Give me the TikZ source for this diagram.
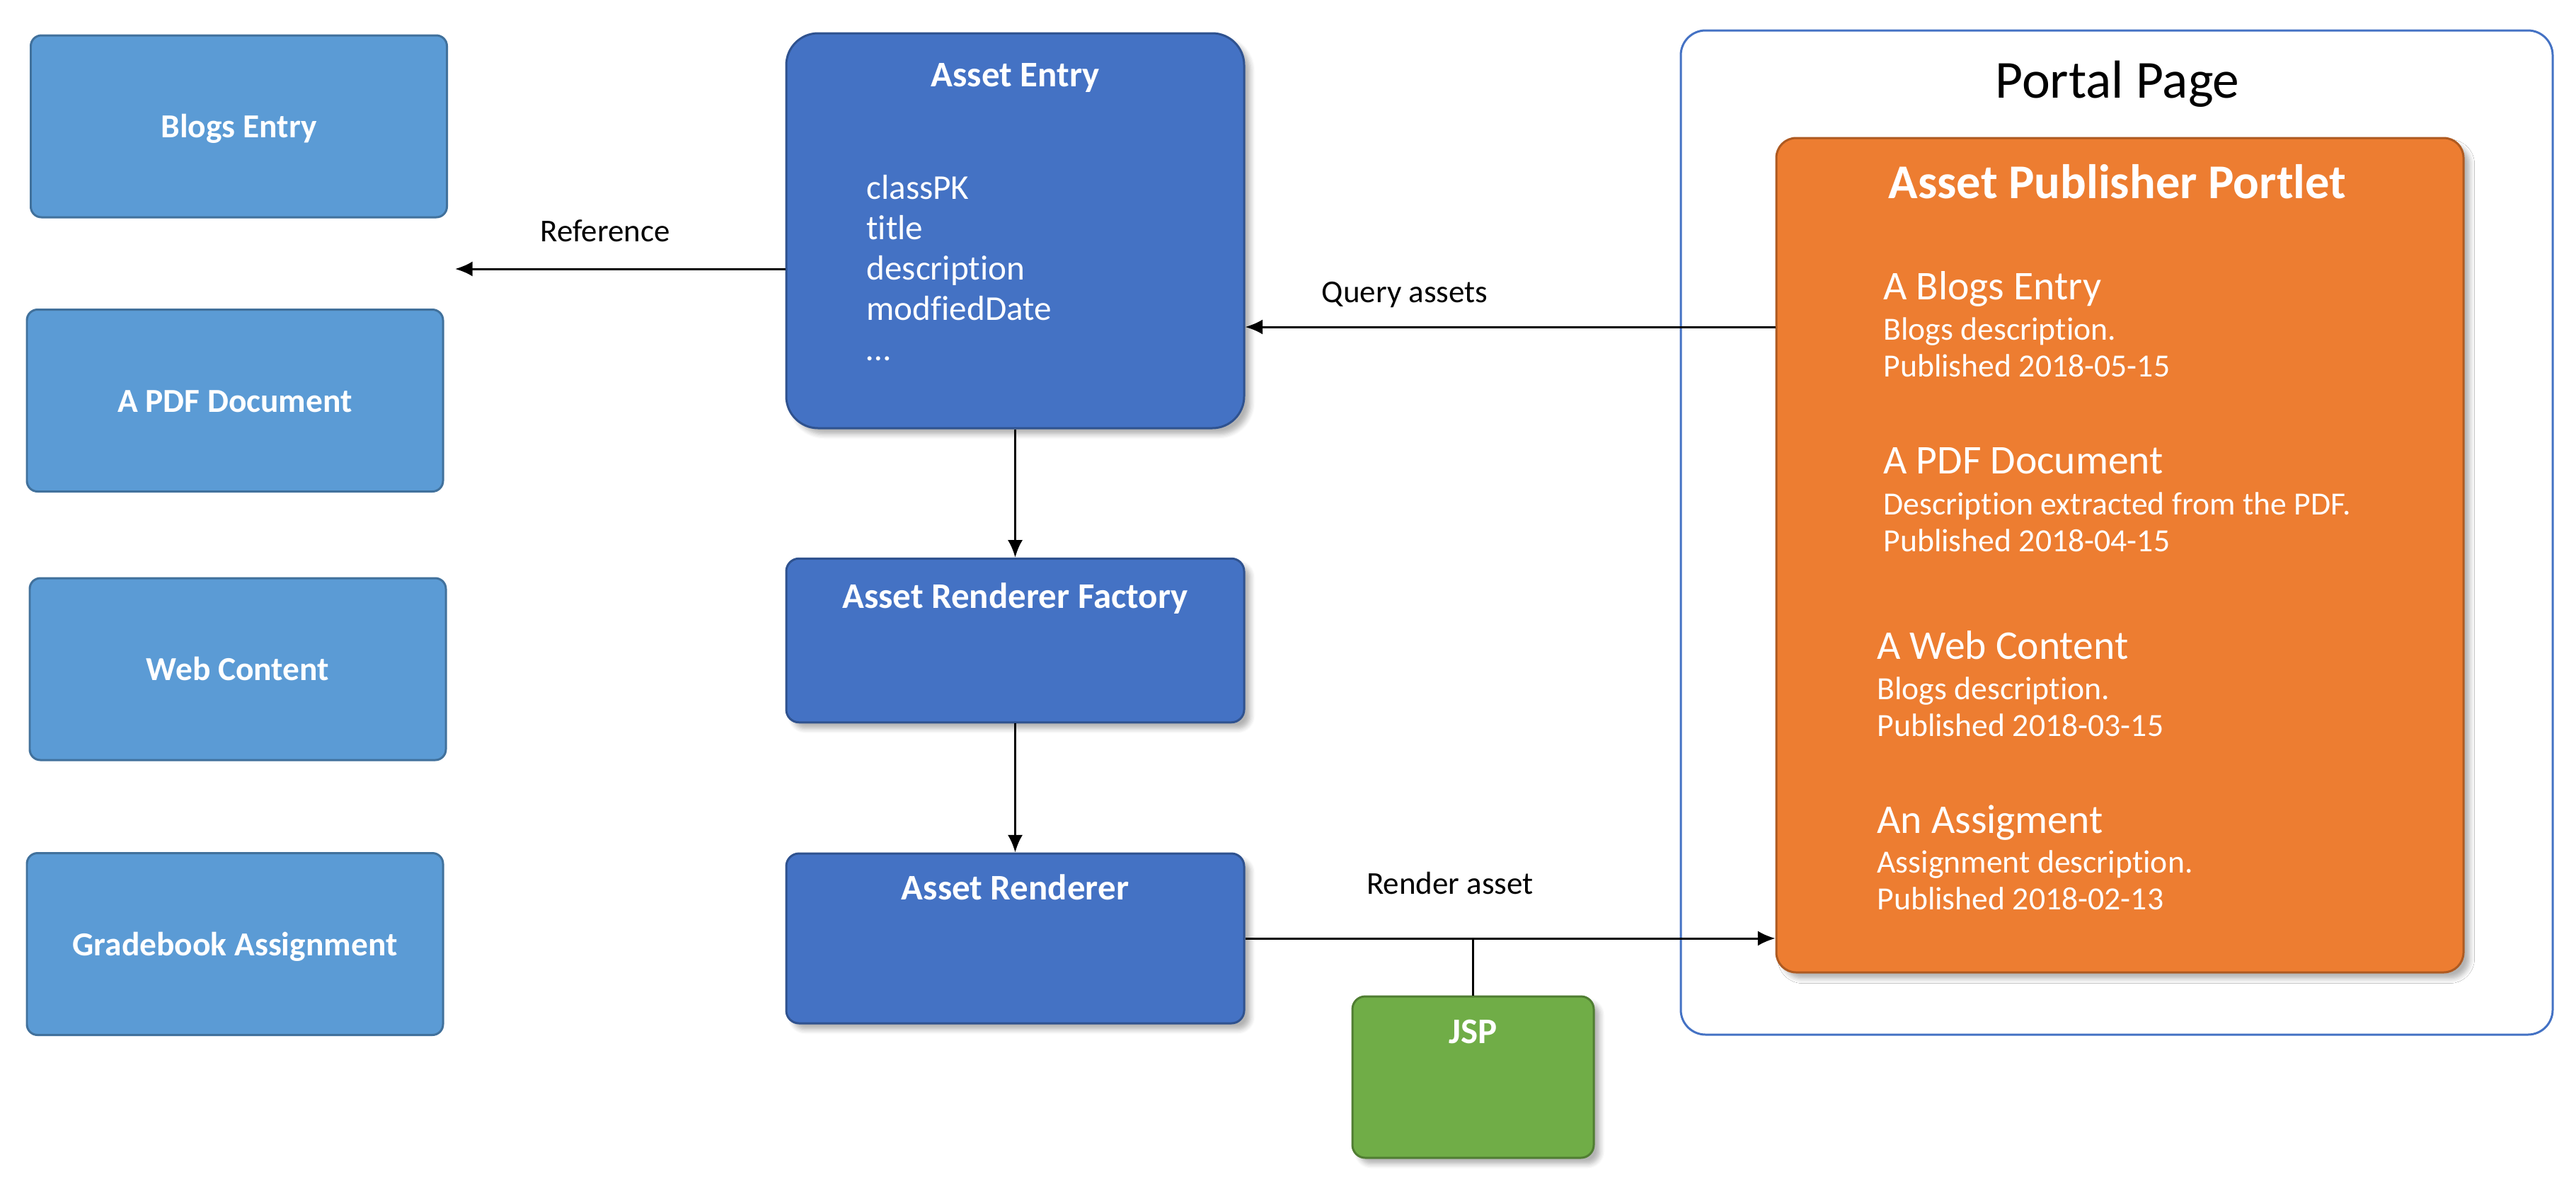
\documentclass[tikz,border=0pt]{standalone}
\usepackage{fontspec}
\setmainfont{Carlito}[Ligatures=NoCommon]
\usetikzlibrary{arrows.meta, shadows.blur}
\definecolor{typefill}{HTML}{5B9BD5}
\definecolor{typeline}{HTML}{41719C}
\definecolor{corefill}{HTML}{4472C4}
\definecolor{coreline}{HTML}{2F528F}
\definecolor{portletfill}{HTML}{ED7D31}
\definecolor{portletline}{HTML}{AE5A21}
\definecolor{jspfill}{HTML}{70AD47}
\definecolor{jspline}{HTML}{507E32}
\begin{document}
\begin{tikzpicture}[
    typebox/.style={draw=typeline, fill=typefill, line width=0.85pt,
        rounded corners=0.15cm, minimum width=5.88cm, minimum height=2.57cm,
        inner sep=0pt, text=white, text height=9.2pt, text depth=0pt,
        font=\fontsize{13.5}{16}\selectfont\bfseries},
    shadowed/.style={blur shadow={shadow xshift=2.5pt, shadow yshift=-2.5pt,
        shadow opacity=30, shadow blur steps=6}},
    corebox/.style={draw=coreline, fill=corefill, line width=0.85pt,
        rounded corners=0.18cm, minimum width=6.47cm, inner sep=0pt, shadowed},
    boxtitle/.style={anchor=base, text=white,
        font=\fontsize{14.5}{17}\selectfont\bfseries},
    fieldtext/.style={anchor=base west, text=white,
        font=\fontsize{14}{17}\selectfont},
    itemtitle/.style={anchor=base west, text=white,
        font=\fontsize{16.4}{19}\selectfont},
    itemtext/.style={anchor=base west, text=white,
        font=\fontsize{13}{15}\selectfont},
    edgelabel/.style={anchor=base, font=\fontsize{12.8}{15}\selectfont},
    arr/.style={-{Latex[length=7pt,width=6pt]}, line width=0.85pt}
]
\useasboundingbox (0,0) rectangle (36.40,-16.82);

% asset types
\node[typebox] (blogs) at (3.375,-1.785) {Blogs Entry};
\node[typebox] (pdf) at (3.32,-5.66) {A PDF Document};
\node[typebox] (web) at (3.36,-9.455) {Web Content};
\node[typebox] (grade) at (3.32,-13.34) {Gradebook Assignment};

% asset framework
\node[corebox, rounded corners=0.45cm, minimum height=5.58cm] (entry) at (14.345,-3.26) {};
\node[boxtitle] (entrytitle) at (14.345,-1.22) {Asset Entry};
\foreach \txt [count=\i] in {classPK, title, description, modfiedDate, …}
    \node[fieldtext] (field\i) at (12.12,{-2.81-0.57*(\i-1)}) {\txt};

\node[corebox, minimum height=2.315cm] (factory) at (14.345,-9.05) {};
\node[boxtitle] (factorytitle) at (14.345,-8.59) {Asset Renderer Factory};

\node[corebox, minimum height=2.40cm] (renderer) at (14.345,-13.26) {};
\node[boxtitle] (renderertitle) at (14.345,-12.71) {Asset Renderer};

\node[draw=jspline, fill=jspfill, line width=0.85pt, rounded corners=0.18cm,
    minimum width=3.41cm, minimum height=2.28cm, inner sep=0pt, shadowed]
    (jsp) at (20.815,-15.22) {};
\node[boxtitle] (jsptitle) at (20.815,-14.74) {JSP};

% portal page
\node[draw=corefill, fill=white, line width=0.85pt, rounded corners=0.35cm,
    minimum width=12.32cm, minimum height=14.19cm, inner sep=0pt]
    (portal) at (29.91,-7.525) {};
\node[anchor=base, font=\fontsize{21.5}{25}\selectfont] (portaltitle) at (29.92,-1.38) {Portal Page};

\node[draw=portletline, fill=portletfill, line width=0.85pt, rounded corners=0.28cm,
    minimum width=9.71cm, minimum height=11.79cm, inner sep=0pt, shadowed]
    (portlet) at (29.955,-7.845) {};
\node[boxtitle, font=\fontsize{19.5}{23}\selectfont\bfseries] (portlettitle) at (29.92,-2.80) {Asset Publisher Portlet};

\node[itemtitle] (item1) at (26.49,-4.23) {A Blogs Entry};
\node[itemtext] (desc1) at (26.49,-4.80) {Blogs description.};
\node[itemtext] (date1) at (26.49,-5.32) {Published 2018-05-15};

\node[itemtitle] (item2) at (26.49,-6.69) {A PDF Document};
\node[itemtext] (desc2) at (26.49,-7.27) {Description extracted from the PDF.};
\node[itemtext] (date2) at (26.49,-7.79) {Published 2018-04-15};

\node[itemtitle] (item3) at (26.40,-9.31) {A Web Content};
\node[itemtext] (desc3) at (26.40,-9.88) {Blogs description.};
\node[itemtext] (date3) at (26.40,-10.40) {Published 2018-03-15};

\node[itemtitle] (item4) at (26.40,-11.77) {An Assigment};
\node[itemtext] (desc4) at (26.40,-12.33) {Assignment description.};
\node[itemtext] (date4) at (26.40,-12.85) {Published 2018-02-13};

% connectors
\coordinate (refend) at (6.43,-3.80);
\coordinate (queryrow) at (0,-4.62);
\draw[arr] (entry.west |- refend) -- (refend);
\node[edgelabel] (reflabel) at (8.55,-3.41) {Reference};

\draw[arr] (portlet.west |- queryrow) -- (entry.east |- queryrow);
\node[edgelabel] (querylabel) at (19.85,-4.275) {Query assets};

\draw[arr] (entry.south) -- (factory.north);
\draw[arr] (factory.south) -- (renderer.north);

\draw[arr] (renderer.east) -- (portlet.west |- renderer.east);
\node[edgelabel] (renderlabel) at (20.49,-12.63) {Render asset};
\draw[line width=0.6pt] (jsp.north) -- (jsp.north |- renderer.east);

\end{tikzpicture}
\end{document}
